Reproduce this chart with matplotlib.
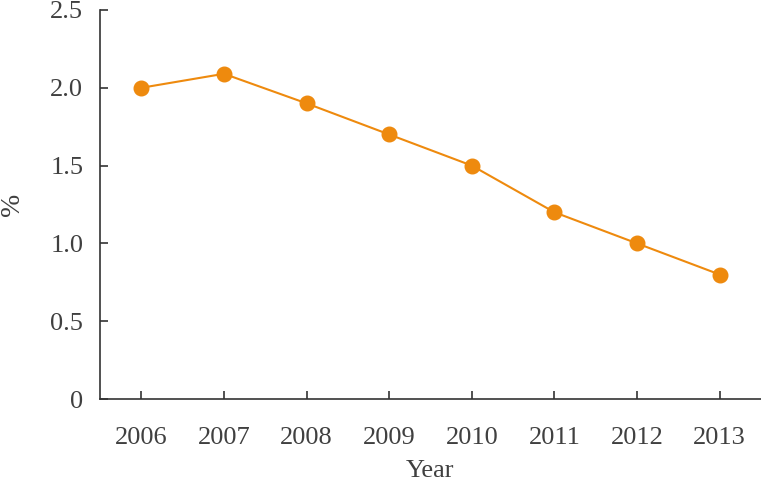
import matplotlib
matplotlib.use('Agg')
from matplotlib import pyplot as plt

years = ['2006', '2007', '2008', '2009', '2010', '2011', '2012', '2013']
values = [2.0, 2.09, 1.9, 1.7, 1.5, 1.2, 1.0, 0.8]

plt.rcParams['font.family'] = ['Liberation Serif', 'DejaVu Serif']
text_color = '#404040'

fig = plt.figure(figsize=(7.61, 4.87), dpi=100)
ax = fig.add_axes([100 / 761, 1 - 399 / 487, 1 - 100 / 761, (399 - 10) / 487])

x = list(range(len(years)))
ax.plot(x, values, color='#EE8A0E', linewidth=1.5, marker='o', markersize=10.5)

ax.set_xlim(-0.5, 7.5)
ax.set_ylim(0, 2.5)
ax.set_xticks(x)
ax.set_xticklabels(years)
ax.set_yticks([0, 0.5, 1.0, 1.5, 2.0, 2.5])
ax.set_yticklabels(['0', '0.5', '1.0', '1.5', '2.0', '2.5'])

for side in ['top', 'right']:
    ax.spines[side].set_visible(False)
for side in ['left', 'bottom']:
    ax.spines[side].set_color('#333333')
    ax.spines[side].set_linewidth(1.2)

ax.tick_params(axis='both', direction='in', length=6, width=1.2, colors='#333333',
               labelcolor=text_color, labelsize=19)
ax.tick_params(axis='x', pad=20)
ax.tick_params(axis='y', pad=12)

ax.set_xlabel('Year', fontsize=19, color=text_color, labelpad=8)
ax.set_ylabel('%', fontsize=20, color=text_color, va='center')
ax.yaxis.set_label_coords(-88 / 661, (399 - 204) / 389)

fig.savefig('out.png', dpi=100)
